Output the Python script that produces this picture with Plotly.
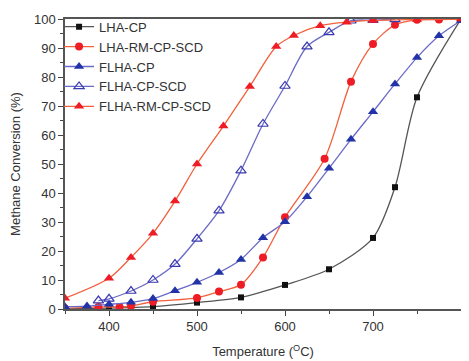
import plotly.graph_objects as go

# LHA-CP
t_lha = [350, 400, 450, 500, 550, 600, 650, 700, 725, 750, 800]
v_lha = [0.1, 0.3, 0.8, 2.2, 4.0, 8.3, 13.7, 24.5, 42.0, 73.0, 100.0]

# LHA-RM-CP-SCD
t_lharm = [350, 388, 412, 425, 450, 500, 525, 550, 575, 600, 645, 675, 700, 725, 750, 775, 800]
v_lharm = [0.2, 0.7, 0.7, 1.0, 2.5, 3.8, 6.0, 8.4, 17.8, 31.6, 51.8, 78.4, 91.4, 98.0, 99.7, 99.8, 100.0]

# FLHA-CP
t_flha = [350, 375, 400, 425, 450, 475, 500, 525, 550, 575, 600, 625, 650, 675, 700, 725, 750, 775, 800]
v_flha = [0.8, 1.0, 1.6, 2.3, 3.6, 6.3, 9.2, 12.6, 17.1, 24.6, 30.1, 38.7, 48.5, 58.5, 68.0, 77.6, 86.7, 94.2, 99.5]

# FLHA-CP-SCD
t_flhascd = [388, 400, 425, 450, 475, 500, 525, 550, 575, 600, 625, 650, 675, 700, 725]
v_flhascd = [2.9, 3.5, 6.2, 10.0, 15.5, 24.2, 33.9, 47.7, 63.8, 76.9, 90.5, 95.4, 99.4, 99.6, 99.9]

# FLHA-RM-CP-SCD
t_flharm = [350, 400, 425, 450, 475, 500, 530, 560, 590, 610, 640, 670, 700, 750, 800]
v_flharm = [3.7, 10.6, 17.8, 26.1, 37.2, 50.0, 63.1, 76.7, 90.5, 94.3, 97.7, 98.9, 99.5, 99.8, 100.0]

series = [
    ("LHA-CP", t_lha, v_lha, "#555555", dict(symbol="square", size=6, color="#111111")),
    ("LHA-RM-CP-SCD", t_lharm, v_lharm, "#f2603c", dict(symbol="circle", size=8, color="#ee1c24")),
    ("FLHA-CP", t_flha, v_flha, "#6a6ac8", dict(symbol="triangle-up", size=9, color="#2233a8")),
    ("FLHA-CP-SCD", t_flhascd, v_flhascd, "#6a6ac8",
     dict(symbol="triangle-up-open", size=9, color="#3a3ab0", line=dict(width=1.2))),
    ("FLHA-RM-CP-SCD", t_flharm, v_flharm, "#f2603c", dict(symbol="triangle-up", size=9, color="#ee1c24")),
]

fig = go.Figure()
for name, t, v, lc, mk in series:
    fig.add_trace(go.Scatter(x=t, y=v, name=name, mode="lines+markers",
                             line=dict(color=lc, width=1.3, shape="spline", smoothing=0.8),
                             marker=mk))

axis_common = dict(showline=True, linecolor="#555555", linewidth=1.5, mirror=True,
                   ticks="outside", ticklen=5, tickwidth=1.2, tickcolor="#444444",
                   showgrid=False, zeroline=False, automargin=False,
                   tickfont=dict(family="Liberation Sans, Arial", size=13, color="#333333"))

fig.update_xaxes(range=[350, 800], tickvals=[400, 500, 600, 700, 800],
                 minor=dict(tickvals=[350, 450, 550, 650, 750], ticks="outside", ticklen=3, tickcolor="#444444"),
                 title=dict(text="Temperature (<sup>O</sup>C)", standoff=14,
                            font=dict(family="Liberation Sans, Arial", size=13, color="#333333")),
                 **axis_common)
fig.update_yaxes(range=[0, 100], dtick=10,
                 minor=dict(dtick=5, ticks="outside", ticklen=3, tickcolor="#444444"),
                 title=dict(text="Methane Conversion (%)", standoff=13,
                            font=dict(family="Liberation Sans, Arial", size=13, color="#333333")),
                 **axis_common)

fig.update_layout(
    width=461, height=353,
    margin=dict(l=57, r=8, t=11, b=52, autoexpand=False),
    plot_bgcolor="white", paper_bgcolor="white",
    legend=dict(x=-0.015, y=1.025, xanchor="left", yanchor="top", bgcolor="rgba(0,0,0,0)",
                font=dict(family="Liberation Sans, Arial", size=13, color="#333333"),
                tracegroupgap=0, itemwidth=30),
    showlegend=True,
)

fig.write_html("out.html")
